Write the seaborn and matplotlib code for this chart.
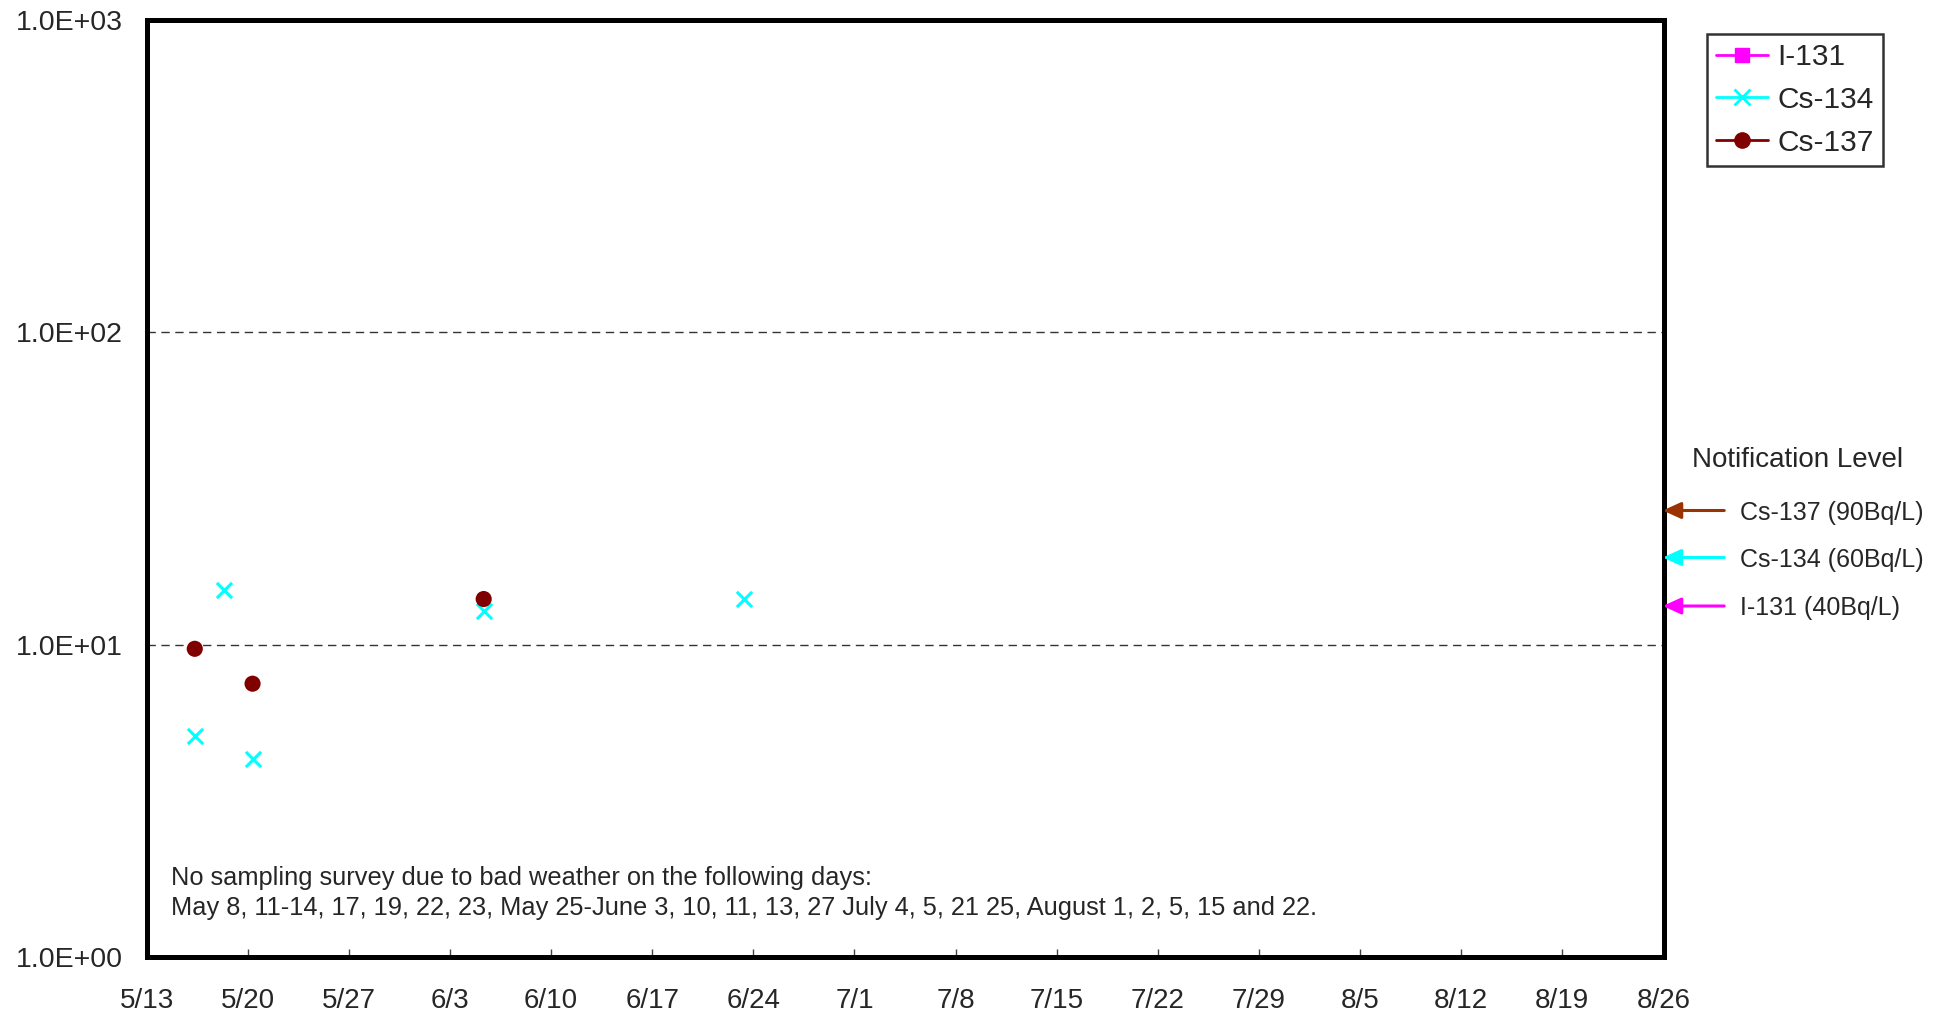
import matplotlib
matplotlib.use("Agg")
import matplotlib.pyplot as plt
from matplotlib.lines import Line2D
from matplotlib.patches import FancyArrowPatch
from matplotlib.ticker import FixedLocator, NullLocator
import seaborn as sns
import pandas as pd

# ---- data ----
cs134_dates = ["2012-05-16 08:00", "2012-05-18 08:00", "2012-05-20 08:00", "2012-06-05 08:00", "2012-06-23 08:00"]
cs134_values = [5.1, 15.0, 4.3, 12.8, 14.0]
cs137_dates = ["2012-05-16 08:00", "2012-05-20 08:00", "2012-06-05 08:00"]
cs137_values = [9.7, 7.5, 14.0]
series_names = ["I-131", "Cs-134", "Cs-137"]
series_colors = ["#FF00FF", "#00FFFF", "#800000"]
y_ticks = [1, 10, 100, 1000]
y_tick_labels = ["1.0E+00", "1.0E+01", "1.0E+02", "1.0E+03"]
x_start, x_end = "2012-05-13", "2012-08-26"
notif_labels = ["Cs-137 (90Bq/L)", "Cs-134 (60Bq/L)", "I-131 (40Bq/L)"]
notif_colors = ["#993300", "#00FFFF", "#FF00FF"]
note_lines = [
    "No sampling survey due to bad weather on the following days:",
    "May 8, 11-14, 17, 19, 22, 23, May 25-June 3, 10, 11, 13, 27 July 4, 5, 21 25, August 1, 2, 5, 15 and 22.",
]

df134 = pd.DataFrame({"date": pd.to_datetime(cs134_dates), "value": cs134_values})
df137 = pd.DataFrame({"date": pd.to_datetime(cs137_dates), "value": cs137_values})

sns.set_style("white")
plt.rcParams["font.family"] = ["Liberation Sans", "DejaVu Sans"]

W, H = 1948, 1016
fig = plt.figure(figsize=(W / 100, H / 100), dpi=100)
ax = fig.add_axes([146.6 / W, 1 - 957 / H, (1663.5 - 146.6) / W, (957 - 20) / H])

sns.scatterplot(data=df134, x="date", y="value", ax=ax, marker="x", s=120,
                color=series_colors[1], linewidth=2.2, legend=False, zorder=3)
sns.scatterplot(data=df137, x="date", y="value", ax=ax, marker="o", s=135,
                color=series_colors[2], edgecolor="none", legend=False, zorder=4)

ax.set_yscale("log")
ax.set_ylim(1, 1000)
ax.yaxis.set_major_locator(FixedLocator(y_ticks))
ax.yaxis.set_minor_locator(NullLocator())
ax.set_yticklabels(y_tick_labels)
ax.tick_params(axis="y", length=0, pad=17, labelsize=20.5)

x0, x1 = pd.Timestamp(x_start), pd.Timestamp(x_end)
ax.set_xlim(x0, x1)
ticks = pd.date_range(x0, x1, freq="7D")
ax.set_xticks(ticks)
ax.set_xticklabels([f"{d.month}/{d.day}" for d in ticks])
ax.xaxis.set_minor_locator(NullLocator())
ax.tick_params(axis="x", direction="in", length=6, width=1, color="#444444",
               pad=22.5, labelsize=20, bottom=True)

ax.set_xlabel("")
ax.set_ylabel("")
for sp in ax.spines.values():
    sp.set_visible(True)
    sp.set_color("black")
    sp.set_linewidth(3.6)

for yv in [10, 100]:
    ax.axhline(yv, color="#333333", linewidth=1.0, linestyle=(0, (6, 4)), zorder=1)

# note text
fig.text(171.4 / W, 1 - 877.5 / H, note_lines[0], fontsize=18.3, va="center", ha="left")
fig.text(171.4 / W, 1 - 908.5 / H, note_lines[1], fontsize=18.3, va="center", ha="left")

# legend
handles = [
    Line2D([], [], color=series_colors[0], marker="s", markersize=10, linewidth=2),
    Line2D([], [], color=series_colors[1], marker="x", markersize=11, markeredgewidth=2, linewidth=2),
    Line2D([], [], color=series_colors[2], marker="o", markersize=11, linewidth=2),
]
leg = fig.legend(handles, series_names, loc="upper left",
                 bbox_to_anchor=(1707 / W, 1 - 34 / H), fontsize=21.5,
                 frameon=True, fancybox=False, edgecolor="black",
                 borderaxespad=0, handlelength=1.75, handletextpad=0.3,
                 labelspacing=0.5, borderpad=0.3)
leg.get_frame().set_linewidth(1.8)

# notification level annotations
fig.text(1691.7 / W, 1 - 460 / H, "Notification Level", fontsize=20, va="center", ha="left")
for lab, col, yy in zip(notif_labels, notif_colors, [510.5, 557.5, 606]):
    fy = 1 - yy / H
    fig.add_artist(FancyArrowPatch(
        (1727 / W, fy), (1660 / W, fy), transform=fig.transFigure,
        arrowstyle="-|>,head_length=0.55,head_width=0.25", mutation_scale=20,
        color=col, linewidth=2.2))
    fig.text(1740 / W, fy - 0.002, lab, fontsize=18, va="center", ha="left")

fig.savefig("out.png", dpi=100)
